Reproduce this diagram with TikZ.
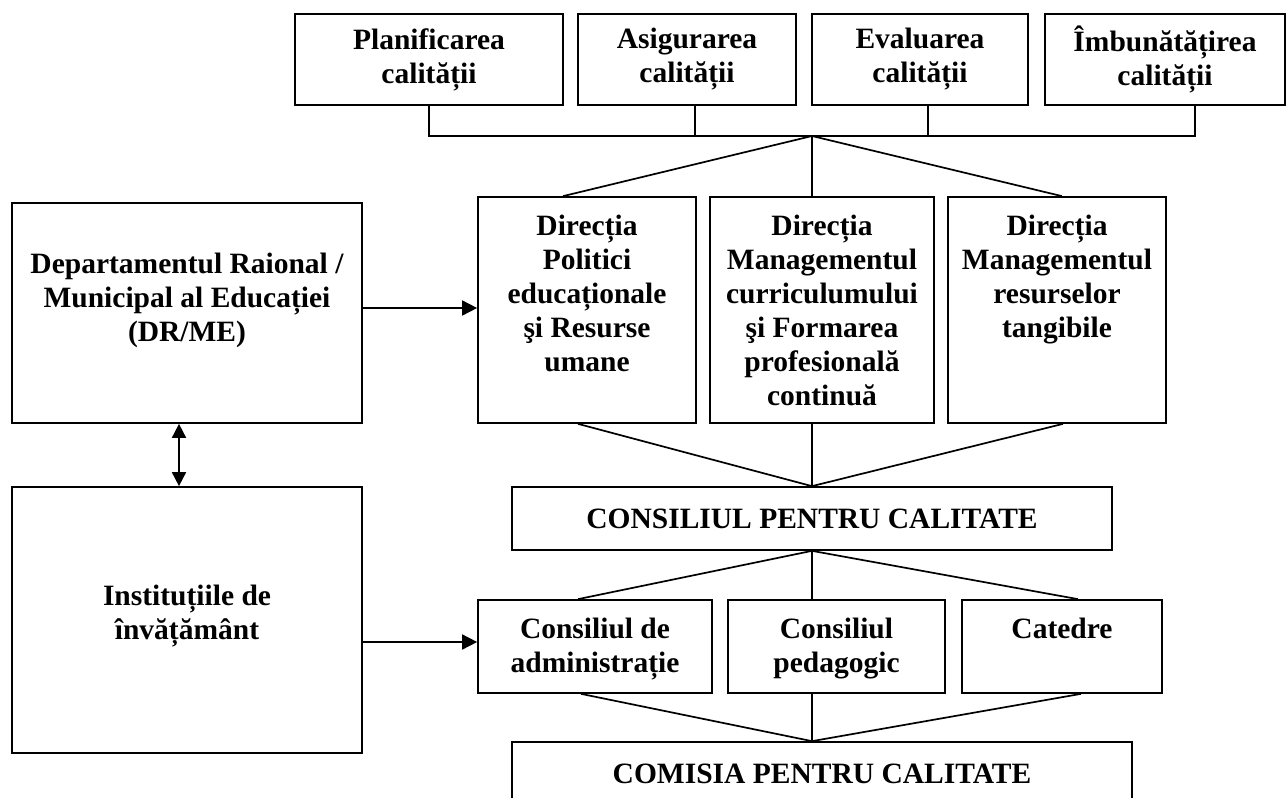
\documentclass[tikz,border=0pt]{standalone}
\usepackage{fontspec}
\setmainfont{Liberation Serif}
\usetikzlibrary{arrows.meta}
\begin{document}
\begin{tikzpicture}[x=1pt,y=-1pt, line width=1.7pt,
  every node/.style={font=\fontsize{29.5}{34}\selectfont\bfseries},
  box/.style={draw, rectangle, inner sep=0pt, align=center},
  txt/.style={align=center, inner sep=0pt},
  arr/.style={-{Triangle[length=15pt,width=15pt]}},
  arrb/.style={{Triangle[length=14pt,width=14pt]}-{Triangle[length=14pt,width=14pt]}}]
\clip (0,0) rectangle (1286,798);
\fill[white] (0,0) rectangle (1286,798);
% top row
\node[box, minimum width=268pt, minimum height=91pt] (p1) at (429,59.5) {Planificarea\\calității};
\node[box, minimum width=218pt, minimum height=91pt] (p2) at (687,59.5) {Asigurarea\\calității};
\node[box, minimum width=216pt, minimum height=91pt] (p3) at (920,59.5) {Evaluarea\\calității};
\node[box, minimum width=240pt, minimum height=91pt] (p4) at (1165,59.5) {Îmbunătățirea\\calității};
% left column
\node[box, minimum width=350pt, minimum height=220pt] (dr) at (187,313) {};
\node[txt] (drT) at (187,300) {Departamentul Raional /\\Municipal al Educației\\(DR/ME)};
\node[box, minimum width=350pt, minimum height=266pt] (inst) at (187,620) {};
\node[txt] (instT) at (187,616) {Instituțiile de\\învățământ};
% directions
\node[box, minimum width=218pt, minimum height=226pt] (d1) at (587,310) {};
\node[box, minimum width=224pt, minimum height=226pt] (d2) at (822,310) {};
\node[box, minimum width=218pt, minimum height=226pt] (d3) at (1057,310) {};
\node[txt, anchor=north] (d1T) at ([yshift=-18pt]d1.north) {Direcția\\Politici\\educaționale\\şi Resurse\\umane};
\node[txt, anchor=north] (d2T) at ([yshift=-18pt]d2.north) {Direcția\\Managementul\\curriculumului\\şi Formarea\\profesională\\continuă};
\node[txt, anchor=north] (d3T) at ([yshift=-18pt]d3.north) {Direcția\\Managementul\\resurselor\\tangibile};
% council
\node[box, minimum width=600pt, minimum height=63pt] (cpc) at (812,518.5) {CONSILIUL PENTRU CALITATE};
% councils row
\node[box, minimum width=234pt, minimum height=93pt] (c1) at (595,646.5) {};
\node[box, minimum width=217pt, minimum height=93pt] (c2) at (836.5,646.5) {};
\node[box, minimum width=200pt, minimum height=93pt] (c3) at (1062,646.5) {};
\node[txt, anchor=north] (c1T) at ([yshift=-18pt]c1.north) {Consiliul de\\administrație};
\node[txt, anchor=north] (c2T) at ([yshift=-18pt]c2.north) {Consiliul\\pedagogic};
\node[txt, anchor=north] (c3T) at ([yshift=-18pt]c3.north) {Catedre};
% commission
\node[box, minimum width=620pt, minimum height=64pt] (com) at (822,774) {COMISIA PENTRU CALITATE};
% bus
\coordinate (J) at (812,136);
\draw (p1.south) |- (J);
\draw ([xshift=30pt]p4.south) |- (J);
\draw ([xshift=8pt]p2.south) -- ([xshift=8pt]p2.south |- J);
\draw ([xshift=8pt]p3.south) -- ([xshift=8pt]p3.south |- J);
\draw (J) -- ([xshift=-24pt]d1.north);
\draw (J) -- ([xshift=-10pt]d2.north);
\draw (J) -- ([xshift=5pt]d3.north);
% to council
\draw ([xshift=-9pt]d1.south) -- (cpc.north);
\draw ([xshift=-10pt]d2.south) -- (cpc.north);
\draw ([xshift=6pt]d3.south) -- (cpc.north);
\draw (cpc.south) -- ([xshift=-17pt]c1.north);
\draw (cpc.south) -- ([xshift=-24.5pt]c2.north);
\draw (cpc.south) -- ([xshift=16pt]c3.north);
\draw ([xshift=-14pt]c1.south) -- ([xshift=-10pt]com.north);
\draw ([xshift=-24.5pt]c2.south) -- ([xshift=-10pt]com.north);
\draw ([xshift=19pt]c3.south) -- ([xshift=-10pt]com.north);
% arrows
\draw[arr] ([yshift=5pt]dr.east) -- ([yshift=5pt]dr.east -| d1.west);
\draw[arr] ([yshift=-22pt]inst.east) -- ([yshift=-22pt]inst.east -| c1.west);
\draw[arrb] ([xshift=-8pt]dr.south) -- ([xshift=-8pt]inst.north);
\end{tikzpicture}
\end{document}
